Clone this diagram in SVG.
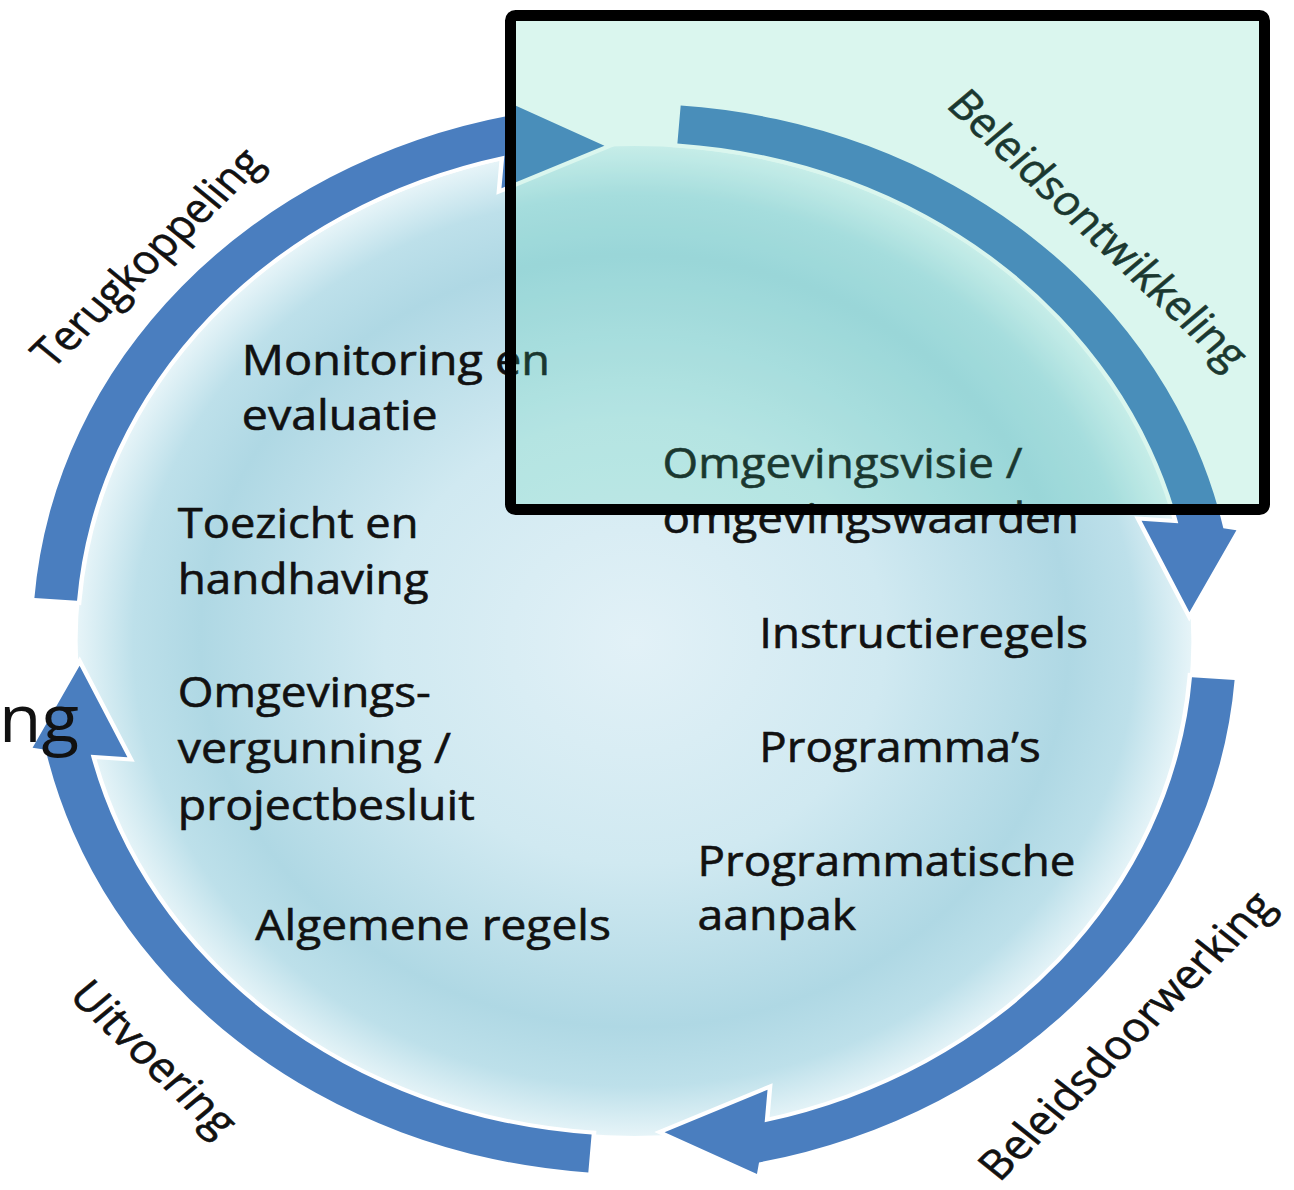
<svg xmlns="http://www.w3.org/2000/svg" xmlns:xlink="http://www.w3.org/1999/xlink" width="1294" height="1190" viewBox="0 0 1294 1190">
<defs>
<style>
.arrow{fill:#4a7ebf;stroke:#ffffff;stroke-width:8;stroke-linejoin:miter;paint-order:stroke fill;}
.t{font-family:"Open Sans","Liberation Sans",sans-serif;font-size:42px;fill:#111111;stroke:#111111;stroke-width:0.6px;}
.lbl{font-family:"Open Sans","Liberation Sans",sans-serif;font-size:41px;fill:#111111;stroke:#111111;stroke-width:0.6px;text-anchor:middle;}
</style>
<radialGradient id="discFill" gradientUnits="userSpaceOnUse" cx="564" cy="641" r="495">
<stop offset="0" stop-color="#e2f1f7"/>
<stop offset="0.45" stop-color="#d0e9f1"/>
<stop offset="0.78" stop-color="#afd8e4"/>
<stop offset="0.9" stop-color="#bde0ea"/>
<stop offset="1" stop-color="#e6f4f8"/>
</radialGradient>
<path id="arrowShape" d="M605.05,105.58 A535,535 0 0 1 1087.43,528.31 L1099.04,530.14 L1057.28,612.28 L1014.73,520.75 L1047.35,523.31 A497,497 0 0 0 602.13,143.47 Z"/>
</defs>
<rect x="0" y="0" width="1294" height="1190" fill="#ffffff"/>
<g transform="scale(1.125,1)">
<g id="disc"><circle cx="564" cy="641" r="495" fill="url(#discFill)"/></g>
<g id="connectors">
<use xlink:href="#arrowShape" href="#arrowShape" class="arrow"/>
<use xlink:href="#arrowShape" href="#arrowShape" class="arrow" transform="rotate(90 564 639)"/>
<use xlink:href="#arrowShape" href="#arrowShape" class="arrow" transform="rotate(180 564 639)"/>
<use xlink:href="#arrowShape" href="#arrowShape" class="arrow" transform="rotate(270 564 639)"/>
</g>
<g id="node-monitoring"><text class="t" x="215" y="375" textLength="274" lengthAdjust="spacingAndGlyphs">Monitoring en</text><text class="t" x="215" y="430" textLength="174" lengthAdjust="spacingAndGlyphs">evaluatie</text></g>
<g id="node-toezicht"><text class="t" x="158" y="538" textLength="214" lengthAdjust="spacingAndGlyphs">Toezicht en</text><text class="t" x="158" y="594" textLength="223" lengthAdjust="spacingAndGlyphs">handhaving</text></g>
<g id="node-vergunning"><text class="t" x="158" y="707" textLength="225" lengthAdjust="spacingAndGlyphs">Omgevings-</text><text class="t" x="158" y="763" textLength="243" lengthAdjust="spacingAndGlyphs">vergunning /</text><text class="t" x="158" y="820" textLength="264" lengthAdjust="spacingAndGlyphs">projectbesluit</text></g>
<g id="node-algemene"><text class="t" x="227" y="940" textLength="316" lengthAdjust="spacingAndGlyphs">Algemene regels</text></g>
<g id="node-visie"><text class="t" x="589" y="478" textLength="320" lengthAdjust="spacingAndGlyphs">Omgevingsvisie /</text><text class="t" x="589" y="533" textLength="370" lengthAdjust="spacingAndGlyphs">omgevingswaarden</text></g>
<g id="node-instructie"><text class="t" x="675" y="648" textLength="292" lengthAdjust="spacingAndGlyphs">Instructieregels</text></g>
<g id="node-programma"><text class="t" x="675" y="762" textLength="250" lengthAdjust="spacingAndGlyphs">Programma’s</text></g>
<g id="node-aanpak"><text class="t" x="620" y="876" textLength="336" lengthAdjust="spacingAndGlyphs">Programmatische</text><text class="t" x="620" y="930" textLength="141" lengthAdjust="spacingAndGlyphs">aanpak</text></g>
<g id="label-terugkoppeling"><text class="lbl" transform="translate(141,267) rotate(-47.4)" textLength="280" lengthAdjust="spacingAndGlyphs">Terugkoppeling</text></g>
<g id="label-beleidsontwikkeling"><text class="lbl" transform="translate(966,239) rotate(46.5)" textLength="366" lengthAdjust="spacingAndGlyphs">Beleidsontwikkeling</text></g>
<g id="label-beleidsdoorwerking"><text class="lbl" transform="translate(1011.6,1045) rotate(-48.2)" textLength="370" lengthAdjust="spacingAndGlyphs">Beleidsdoorwerking</text></g>
<g id="label-uitvoering"><text class="lbl" transform="translate(126.8,1068) rotate(46.9)" textLength="195" lengthAdjust="spacingAndGlyphs">Uitvoering</text></g>
</g>
<g id="cut-text"><text x="79" y="742" font-family="Open Sans, Liberation Sans, sans-serif" font-size="66" fill="#111111" text-anchor="end" textLength="80" lengthAdjust="spacingAndGlyphs">ng</text></g>
<g id="highlight">
<rect x="510.5" y="15.5" width="754" height="494" rx="5" fill="#46d2aa" fill-opacity="0.2" stroke="#000000" stroke-width="11"/>
</g>
</svg>
